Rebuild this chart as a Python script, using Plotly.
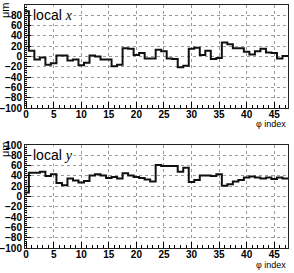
import numpy as np
import plotly.graph_objects as go

phi_index = list(range(48))
local_x = [88, 11, -6, -2, -16, -13, 2, 2, -8, -6, -17, -12, 2, 0, -6, -6,
           -19, -16, 16, 15, 3, 7, -4, -4, 13, 10, -4, -5, -21, -18, 15, 17,
           3, 11, -5, -3, 27, 24, 16, 16, 9, 4, 10, 15, 8, 7, -4, 1]
local_y = [8, 46, 46, 48, 40, 43, 26, 22, 35, 31, 27, 30, 41, 43, 41, 36,
           38, 35, 45, 41, 38, 36, 33, 29, 61, 59, 59, 59, 48, 56, 28, 32,
           41, 41, 40, 43, 21, 24, 29, 32, 37, 39, 37, 35, 37, 34, 37, 35]
x_ticks = [0, 5, 10, 15, 20, 25, 30, 35, 40, 45]
y_ticks = [-100, -80, -60, -40, -20, 0, 20, 40, 60, 80, 100]
panel_titles = ["local <span style='font-family:Liberation Serif'><i>x</i></span>",
                "local <span style='font-family:Liberation Serif'><i>y</i></span>"]
y_unit = "μm"
x_title = "φ index"

X_MIN, X_MAX = -0.2, 47.5


def steps(centers, vals):
    c = np.asarray(centers, dtype=float)
    xs = np.column_stack([c - 0.5, c + 0.5]).ravel()
    xs = np.clip(xs, X_MIN, X_MAX)
    ys = np.repeat(np.asarray(vals, dtype=float), 2)
    return xs, ys


fig = go.Figure()
for i, vals in enumerate([local_x, local_y]):
    xs, ys = steps(phi_index, vals)
    sfx = "" if i == 0 else "2"
    fig.add_trace(go.Scatter(x=xs, y=ys, mode="lines",
                             line=dict(color="#111111", width=2, simplify=False),
                             xaxis="x" + sfx, yaxis="y" + sfx,
                             showlegend=False, hoverinfo="skip"))

tickfont = dict(family="Liberation Sans Narrow, Liberation Sans, Arial", size=10,
                color="black", weight="bold")
common_x = dict(range=[X_MIN, X_MAX], tickvals=x_ticks, ticks="inside", ticklen=6,
                tickcolor="black", tickfont=tickfont, showgrid=True,
                griddash="dot", gridcolor="#9a9a9a", gridwidth=1,
                showline=True, linecolor="#222", linewidth=1, mirror=True,
                zeroline=False, automargin=False, ticklabelstandoff=-3,
                minor=dict(dtick=1, tick0=0, ticks="inside", ticklen=3, tickcolor="black",
                           showgrid=False))
common_y = dict(range=[-100, 100], tickvals=y_ticks, ticks="inside", ticklen=6,
                tickcolor="black", tickfont=tickfont, showgrid=True,
                griddash="dot", gridcolor="#9a9a9a", gridwidth=1,
                showline=True, linecolor="#222", linewidth=1, mirror=True,
                zeroline=False, automargin=False,
                minor=dict(dtick=4, ticks="inside", ticklen=2, tickcolor="black",
                           showgrid=False))

top_lo = (248 - 108) / 243
bot_hi = (248 - 145) / 243
fig.update_layout(
    width=294, height=273,
    margin=dict(l=25, r=6, t=5, b=25, autoexpand=False),
    paper_bgcolor="white", plot_bgcolor="white",
    xaxis=dict(domain=[0, 1], anchor="y", **common_x),
    yaxis=dict(domain=[top_lo, 1], anchor="x", **common_y),
    xaxis2=dict(domain=[0, 1], anchor="y2", **common_x),
    yaxis2=dict(domain=[0, bot_hi], anchor="x2", **common_y),
)

ann = []
label_font = dict(family="Liberation Sans Narrow, Liberation Sans, Arial", size=14, color="black")
small_font = dict(family="Liberation Sans Narrow, Liberation Sans, Arial", size=9, color="black")
for title, y_mu, y_txt, y_xt in [(panel_titles[0], (248 - 10) / 243, (248 - 15) / 243, (248 - 124) / 243),
                                 (panel_titles[1], (248 - 149) / 243, (248 - 155) / 243, (248 - 265) / 243)]:
    ann.append(dict(text=y_unit, xref="paper", yref="paper", x=(5 - 25) / 263, y=y_mu,
                    xanchor="center", yanchor="middle", textangle=-90, showarrow=False,
                    font=dict(family="Liberation Sans Narrow, Liberation Sans, Arial", size=11, color="black")))
    ann.append(dict(text=title, xref="paper", yref="paper", x=(32 - 25) / 263, y=y_txt,
                    xanchor="left", yanchor="middle", showarrow=False, bgcolor="white",
                    borderpad=0, font=label_font))
    ann.append(dict(text=x_title, xref="paper", yref="paper", x=(288 - 25) / 263, y=y_xt,
                    xanchor="right", yanchor="middle", showarrow=False, font=small_font))
fig.update_layout(annotations=ann)

fig.write_html("out.html", config={"displayModeBar": False},
               post_script="document.body.style.margin='0';document.body.style.padding='0';")
